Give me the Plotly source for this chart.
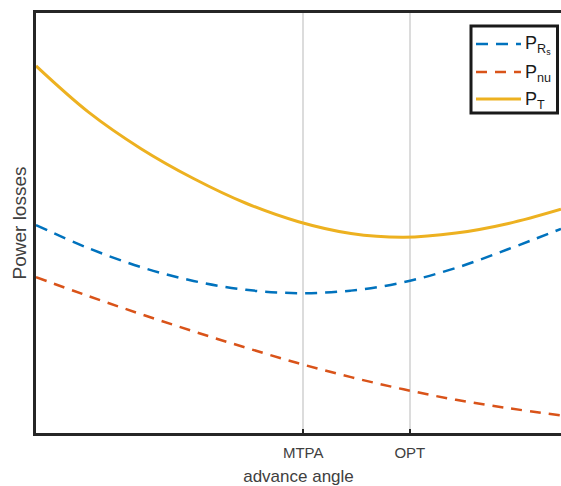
import plotly.graph_objects as go

# advance angle (arbitrary units)
angle = [0, 10, 20, 30, 40, 50, 60, 70, 80, 90, 100]
p_rs = [49.5, 44.0, 39.5, 36.2, 34.1, 33.3, 33.9, 35.9, 39.3, 43.8, 48.6]
p_nu = [37.1, 32.6, 28.3, 24.2, 20.3, 16.6, 13.3, 10.4, 7.9, 5.9, 4.2]
p_t = [87.4, 76.4, 67.7, 60.6, 54.7, 50.3, 47.5, 46.6, 47.6, 49.9, 53.3]

tick_vals = [50.9, 71.2]
tick_text = ["MTPA", "OPT"]

names = ["P<sub>R<sub>s</sub></sub>", "P<sub>nu</sub>", "P<sub>T</sub>"]
colors = ["#0072BD", "#D95319", "#EDB120"]
dashes = ["12px,8px", "11px,8px", "solid"]
widths = [2.5, 2.5, 3]
series = [p_rs, p_nu, p_t]

fig = go.Figure()
for s, n, c, d, w in zip(series, names, colors, dashes, widths):
    fig.add_trace(go.Scatter(x=angle, y=s, mode="lines", name=n, showlegend=False,
                             line=dict(color=c, width=w, dash=d, shape="spline", smoothing=1.0)))

# manual legend (paper coordinates: x=(px-36)/525, y=(433-py)/420)
def px_x(px):
    return (px - 36) / 525.0

def px_y(py):
    return (433 - py) / 420.0

shapes = [dict(type="rect", xref="paper", yref="paper",
               x0=px_x(471), x1=px_x(557.5), y0=px_y(113), y1=px_y(26),
               line=dict(color="#1a1a1a", width=3), fillcolor="white", layer="above")]
annotations = []
rows = [44, 72, 99]
for row, n, c, d, w in zip(rows, names, colors, dashes, widths):
    shapes.append(dict(type="line", xref="paper", yref="paper",
                       x0=px_x(476), x1=px_x(521), y0=px_y(row), y1=px_y(row),
                       line=dict(color=c, width=w, dash=d), layer="above"))
    annotations.append(dict(xref="paper", yref="paper", x=px_x(523), y=px_y(row + 1),
                            xanchor="left", yanchor="middle", showarrow=False,
                            text=n, font=dict(size=18, color="#1a1a1a")))

fig.update_layout(
    width=561, height=486,
    margin=dict(l=36, r=0, t=13, b=53),
    plot_bgcolor="white", paper_bgcolor="white",
    font=dict(family="Liberation Sans, Arial, sans-serif", size=15, color="#404040"),
    showlegend=False,
    shapes=shapes, annotations=annotations,
)
fig.update_xaxes(range=[0, 100], tickmode="array", tickvals=tick_vals, ticktext=tick_text,
                 showgrid=True, gridcolor="#dcdcdc", gridwidth=2,
                 showline=True, linecolor="#262626", linewidth=2.5, mirror=True,
                 ticks="inside", ticklen=4, tickwidth=2, tickcolor="#262626",
                 ticklabelstandoff=4,
                 zeroline=False,
                 title=dict(text="advance angle", standoff=12, font=dict(size=17, color="#404040")),
                 tickfont=dict(size=15, color="#404040"))
fig.update_yaxes(range=[0, 100], showticklabels=False, showgrid=False, zeroline=False,
                 showline=True, linecolor="#262626", linewidth=2.5, mirror=False, ticks="",
                 title=dict(text="Power losses", standoff=2, font=dict(size=19, color="#404040")))

fig.write_html("out.html")
